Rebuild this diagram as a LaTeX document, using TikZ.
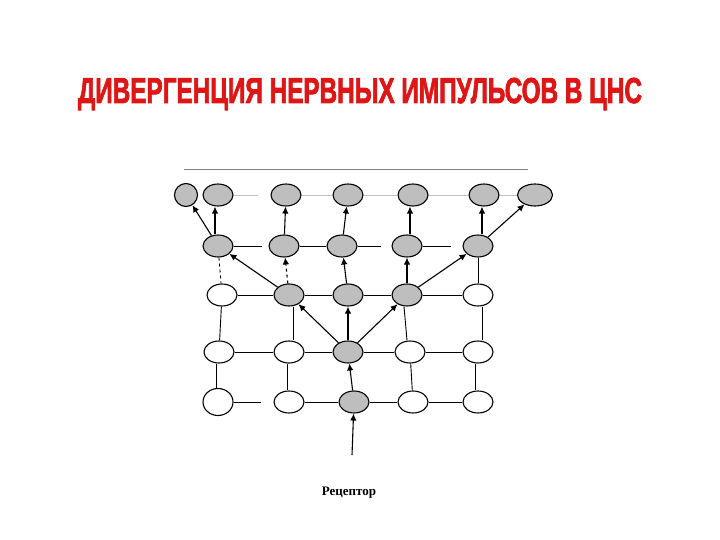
\documentclass[tikz,border=0pt]{standalone}
\usepackage{fontspec}
\setmainfont{Liberation Serif}
\newfontfamily\titlefont[BoldFont={Liberation Sans Bold},BoldFeatures={FakeBold=2.5}]{Liberation Sans}
\usepackage{graphicx}
\usetikzlibrary{shapes,arrows.meta}
\definecolor{titlered}{RGB}{222,22,22}
\definecolor{cellgray}{RGB}{190,190,190}
\definecolor{linegray}{RGB}{195,195,195}

\begin{document}
\begin{tikzpicture}[x=1pt,y=-1pt,semithick,
  cell/.style={shape=ellipse,draw,line width=1.1pt,minimum width=30pt,minimum height=22pt,inner sep=0pt},
  on/.style={cell,fill=cellgray},
  off/.style={cell,fill=white},
  arr/.style={-{Latex[length=7pt,width=6.5pt]},line width=1.1pt},
  link/.style={line width=0.9pt}]
  \useasboundingbox (0,0) rectangle (720,540);
  % title
  \node (title) at (360,94) {\titlefont\bfseries\fontsize{36}{36}\selectfont\color{titlered}%
    \resizebox{564pt}{\height}{ДИВЕРГЕНЦИЯ НЕРВНЫХ ИМПУЛЬСОВ В ЦНС}};
  \draw[gray,thin] (184,169) -- (528,169);
  % row 1
  \node[on,minimum width=23pt,minimum height=23pt] (r1a) at (186,195) {};
  \node[on] (r1b) at (218,195) {};
  \node[on] (r1c) at (286,195) {};
  \node[on] (r1d) at (348,195) {};
  \node[on] (r1e) at (413,195) {};
  \node[on] (r1f) at (484,195) {};
  \node[on,minimum width=35pt] (r1g) at (535,195) {};
  % row 2
  \node[on] (r2a) at (218,246) {};
  \node[on] (r2b) at (284,246) {};
  \node[on] (r2c) at (342,246) {};
  \node[on] (r2d) at (407,246) {};
  \node[on] (r2e) at (478,246) {};
  % row 3
  \node[off] (r3a) at (222,295) {};
  \node[on] (r3b) at (289,295) {};
  \node[on] (r3c) at (348,295) {};
  \node[on] (r3d) at (407,295) {};
  \node[off] (r3e) at (478,295) {};
  % row 4
  \node[off] (r4a) at (219,352) {};
  \node[off] (r4b) at (289,352) {};
  \node[on] (r4c) at (348,352) {};
  \node[off] (r4d) at (410,352) {};
  \node[off] (r4e) at (478,352) {};
  % row 5
  \node[off,minimum height=27pt] (r5a) at (218,402) {};
  \node[off] (r5b) at (289,402) {};
  \node[on] (r5c) at (354,402) {};
  \node[off] (r5d) at (413,402) {};
  \node[off] (r5e) at (478,402) {};
  \coordinate (rec) at (352,455);
  \node[font=\bfseries\fontsize{13}{13}\selectfont] (label) at (349,493) {Рецептор};
  % horizontal links
  \draw[link,linegray,shorten >=12pt] (r1b) -- (r1c);
  \draw[link,linegray] (r1c) -- (r1d);
  \draw[link,linegray] (r1d) -- (r1e);
  \draw[link,linegray] (r1e) -- (r1f);
  \draw[link,linegray] (r1f) -- (r1g);
  \draw[link,shorten >=6pt] (r2a) -- (r2b);
  \draw[link] (r2b) -- (r2c);
  \draw[link,shorten >=10pt] (r2c) -- (r2d);
  \draw[link,shorten >=11pt] (r2d) -- (r2e);
  \draw[link] (r3a) -- (r3b) -- (r3c) -- (r3d) -- (r3e);
  \draw[link] (r4a) -- (r4b) -- (r4c) -- (r4d) -- (r4e);
  \draw[link,shorten >=12pt] (r5a) -- (r5b);
  \draw[link] (r5b) -- (r5c) -- (r5d) -- (r5e);
  % vertical links
  \draw[link,dashed] (r2a) -- (r3a);
  \draw[link] (r2e) -- (r3e);
  \draw[link] (r3a) -- (r4a);
  \draw[link] ([xshift=4pt]r3b.south) -- ([xshift=4pt]r4b.north);
  \draw[link] ([xshift=-3pt]r3d.south) -- ([xshift=-3pt]r4d.north);
  \draw[link] ([xshift=4pt]r3e.south) -- ([xshift=4pt]r3e.south |- r4e.north);
  \draw[link] ([xshift=-3pt]r4a.south) -- ([xshift=-3pt]r4a.south |- r5a.north);
  \draw[link] ([xshift=-2pt]r4b.south) -- ([xshift=-2pt]r5b.north);
  \draw[link] (r4d) -- (r5d);
  \draw[link] ([xshift=-3pt]r4e.south) -- ([xshift=-3pt]r5e.north);
  % impulse spreading
  \draw[arr] (rec) -- (r5c);
  \draw[arr] (r5c) -- (r4c);
  \draw[arr] (r4c) -- (r3b);
  \draw[arr] (r4c) -- (r3c);
  \draw[arr] (r4c) -- (r3d);
  \draw[arr] (r3b) -- (r2a);
  \draw[arr,dashed] (r3b) -- (r2b);
  \draw[arr] (r3c) -- (r2c);
  \draw[arr] (r3d) -- (r2d);
  \draw[arr] (r3d) -- (r2e);
  \draw[arr] (r2a) -- (r1a);
  \draw[arr] ([xshift=-3pt]r2a.north) -- ([xshift=-3pt]r1b.south);
  \draw[arr] (r2b) -- (r1c);
  \draw[arr] (r2c) -- (r1d);
  \draw[arr] ([xshift=3pt]r2d.north) -- ([xshift=-3pt]r1e.south);
  \draw[arr] ([xshift=4pt]r2e.north) -- ([xshift=-2pt]r1f.south);
  \draw[arr] (r2e) -- (r1g);
\end{tikzpicture}
\end{document}
